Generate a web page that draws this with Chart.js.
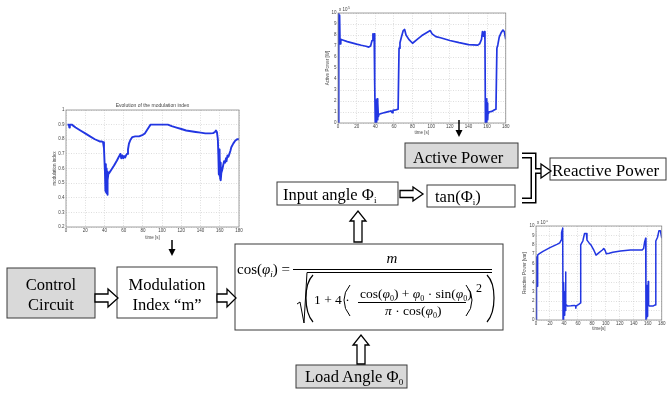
<!DOCTYPE html>
<html>
<head>
<meta charset="utf-8">
<script src="https://cdn.jsdelivr.net/npm/chart.js@4.4.1/dist/chart.umd.min.js"></script>
<style>
  html, body { margin: 0; padding: 0; background: #fff; }
  #page { position: relative; width: 667px; height: 398px; overflow: hidden; }
  canvas { position: absolute; }
  #diagram { position: absolute; left: 0; top: 0; pointer-events: none; }
  #diagram text { font-family: "Liberation Serif", "Times New Roman", serif; fill: #000; }
  .box { stroke: #3a3a3a; stroke-width: 1; }
</style>
</head>
<body>
<div id="page">
  <canvas id="modChart" width="215" height="140" style="left:30px;top:100px"></canvas>
  <canvas id="activeChart" width="186" height="135" style="left:325px;top:0px"></canvas>
  <canvas id="reactiveChart" width="147" height="111" style="left:520px;top:220px"></canvas>

  <svg id="diagram" width="667" height="398" viewBox="0 0 667 398">
    <!-- thin arrows from the plots -->
    <line x1="172" y1="240" x2="172" y2="250" stroke="#000" stroke-width="1.5"/>
    <polygon points="168.5,249 175.5,249 172,256" fill="#000"/>
    <line x1="459" y1="120" x2="459" y2="131" stroke="#000" stroke-width="1.5"/>
    <polygon points="455.5,130 462.5,130 459,137" fill="#000"/>

    <!-- blocks -->
    <rect class="box" x="7" y="268" width="88" height="50" fill="#d9d9d9"/>
    <text x="51" y="290" font-size="16.5" text-anchor="middle">Control</text>
    <text x="51" y="310" font-size="16.5" text-anchor="middle">Circuit</text>

    <rect class="box" x="117" y="267" width="100" height="51" fill="#fff"/>
    <text x="167" y="290" font-size="16.5" text-anchor="middle">Modulation</text>
    <text x="167" y="310" font-size="16.5" text-anchor="middle">Index “m”</text>

    <rect class="box" x="235" y="244" width="268" height="86" fill="#fff"/>

    <rect class="box" x="277" y="182" width="121" height="23" fill="#fff"/>
    <text x="283" y="200" font-size="16.5">Input angle Φ<tspan font-size="9" dy="3">i</tspan></text>

    <rect class="box" x="427" y="185" width="88" height="22" fill="#fff"/>
    <text x="435" y="202" font-size="16.5">tan(Φ<tspan font-size="9" dy="3">i</tspan><tspan dy="-3">)</tspan></text>

    <rect class="box" x="405" y="143" width="113" height="25" fill="#d9d9d9"/>
    <text x="413" y="163" font-size="16.5">Active Power</text>

    <rect class="box" x="550" y="158" width="116" height="22" fill="#fff"/>
    <text x="552" y="176" font-size="17">Reactive Power</text>

    <rect class="box" x="296" y="365" width="111" height="23" fill="#d9d9d9"/>
    <text x="305" y="382" font-size="16.5">Load Angle Φ<tspan font-size="9" dy="3">0</tspan></text>

    <!-- hollow block arrows -->
    <g fill="#fff" stroke="#000" stroke-width="1.3" stroke-linejoin="miter">
      <polygon points="95,294 108,294 108,289 118,298 108,307 108,302 95,302"/>
      <polygon points="217,294 227,294 227,289 236,298 227,307 227,302 217,302"/>
      <polygon points="400,190.5 413,190.5 413,187 423,194 413,201 413,197.5 400,197.5"/>
      <polygon points="354,242 354,221 350,221 358,211 366,221 362,221 362,242"/>
      <polygon points="357,364 357,345 353,345 361,335 369,345 365,345 365,364"/>
    </g>

    <!-- bracket joining active power and tan(phi) -->
    <path d="M522,155.5 H533.5 V200.5 H522 M533.5,171 H542" fill="none" stroke="#000" stroke-width="6"/>
    <path d="M522,155.5 H533.5 V200.5 H522 M533.5,171 H543" fill="none" stroke="#fff" stroke-width="3"/>
    <polygon points="541,164 551,171 541,178" fill="#fff" stroke="#000" stroke-width="1.3"/>

    <!-- cos(phi_i) = m / sqrt(1 + 4((cos phi0 + phi0 sin phi0)/(pi cos phi0))^2) -->
    <text x="237" y="274" font-size="15">cos(<tspan font-style="italic">φ</tspan><tspan font-size="9" font-style="italic" dy="3">i</tspan><tspan dy="-3">) =</tspan></text>
    <line x1="293" y1="269.5" x2="492" y2="269.5" stroke="#000" stroke-width="1"/>
    <text x="392" y="263" font-size="15" font-style="italic" text-anchor="middle">m</text>
    <path d="M297,304 L300,302 L304,323 L307,272.5 L492,272.5" fill="none" stroke="#000" stroke-width="1"/>
    <path d="M313,275 Q306,282 306,298 Q306,314 313,322" fill="none" stroke="#000" stroke-width="1.2"/>
    <path d="M487,275 Q494,282 494,298 Q494,314 487,322" fill="none" stroke="#000" stroke-width="1.2"/>
    <text x="314" y="304" font-size="13.5">1 + 4 ·</text>
    <path d="M350,285 Q344,292 344,300 Q344,309 350,316" fill="none" stroke="#000" stroke-width="1"/>
    <path d="M466,285 Q472,292 472,300 Q472,309 466,316" fill="none" stroke="#000" stroke-width="1"/>
    <text x="476" y="292" font-size="12">2</text>
    <text x="360" y="298" font-size="13.5">cos(<tspan font-style="italic">φ</tspan><tspan font-size="8" dy="2.5">0</tspan><tspan dy="-2.5">) + </tspan><tspan font-style="italic">φ</tspan><tspan font-size="8" dy="2.5">0</tspan><tspan dy="-2.5"> · sin(</tspan><tspan font-style="italic">φ</tspan><tspan font-size="8" dy="2.5">0</tspan><tspan dy="-2.5">)</tspan></text>
    <line x1="358" y1="302.5" x2="466" y2="302.5" stroke="#000" stroke-width="1"/>
    <text x="385" y="315" font-size="13.5"><tspan font-style="italic">π</tspan> · cos(<tspan font-style="italic">φ</tspan><tspan font-size="8" dy="2.5">0</tspan><tspan dy="-2.5">)</tspan></text>
  </svg>
</div>

<script>
// time axis shared by the three plots [s]
const timeMin = 0;
const timeMax = 180;
const timeStep = 20;

// modulation index m(t)
const modulationIndex = [
  [1.5, 0.90], [3, 0.90], [3.5, 0.88], [4, 0.90], [6, 0.90], [10, 0.88], [15, 0.86],
  [20, 0.84], [25, 0.82], [30, 0.80], [35, 0.785], [37, 0.785], [38.5, 0.78], [39.5, 0.74],
  [40.5, 0.58], [41, 0.45], [41.3, 0.63], [41.6, 0.44], [42, 0.60], [42.3, 0.43], [42.7, 0.58],
  [43, 0.42], [43.5, 0.52], [44, 0.56], [45, 0.57], [47, 0.59], [50, 0.62], [53, 0.655],
  [55, 0.68], [56.5, 0.70], [57.5, 0.67], [58.5, 0.69], [59.5, 0.67], [60.5, 0.685],
  [61.5, 0.675], [62.5, 0.69], [63.5, 0.70], [64.5, 0.73], [65.5, 0.77], [67, 0.795],
  [69, 0.815], [72, 0.82], [76, 0.82], [80, 0.83], [82, 0.84], [84, 0.86], [86, 0.88],
  [88, 0.90], [95, 0.90], [100, 0.90], [106, 0.90], [110, 0.89], [115, 0.88], [120, 0.87],
  [125, 0.86], [130, 0.855], [135, 0.85], [140, 0.845], [145, 0.84], [150, 0.84],
  [153, 0.842], [155, 0.85], [156, 0.86], [157, 0.85], [158, 0.80], [158.5, 0.70],
  [159, 0.56], [159.3, 0.73], [159.6, 0.55], [160, 0.70], [160.4, 0.53], [160.8, 0.64],
  [161.2, 0.52], [161.6, 0.57], [162.5, 0.59], [163.5, 0.62], [164.5, 0.65], [165.5, 0.64],
  [166.5, 0.67], [167, 0.65], [168, 0.69], [169, 0.68], [170, 0.70], [171, 0.72],
  [172, 0.745], [174, 0.77], [176, 0.79], [178, 0.80], [180, 0.80]
];

// active power P(t), x 10^5 W
const activePower = [
  [0, 0], [0.6, 5], [1, 10], [1.3, 7.3], [1.7, 9.8], [2.2, 7.2], [3, 7.6], [5, 7.55],
  [10, 7.4], [15, 7.28], [20, 7.17], [25, 7.07], [30, 6.98], [33, 6.9], [35, 7.0],
  [36.5, 7.5], [37.5, 8.1], [38.3, 7.6], [38.8, 8.1], [39.2, 7.5], [39.6, 3.5], [40, 0],
  [40.4, 2.1], [40.8, 0.1], [41.2, 2.0], [41.6, 0], [42, 2.2], [42.4, 0.3], [42.8, 1.9],
  [43.3, 0.6], [44, 0.8], [50, 0.95], [55, 1.05], [57, 1.1], [58, 0.95], [59, 1.15],
  [62, 1.2], [64.5, 1.25], [65.5, 6.8], [66.5, 7.3], [68, 7.8], [70, 8.4], [71.5, 8.5],
  [73, 8.0], [76, 7.6], [80, 7.25], [85, 7.6], [90, 7.95], [95, 8.2], [99, 8.4], [101, 8.1],
  [105, 7.85], [110, 7.75], [120, 7.5], [130, 7.3], [140, 7.12], [150, 7.08], [152, 7.2],
  [154, 7.6], [155, 8.3], [156, 7.9], [157, 8.3], [157.7, 7.6], [158.2, 0], [158.6, 2.2],
  [159, 0], [159.4, 2.2], [159.8, 0.2], [160.2, 1.8], [160.6, 0.3], [161, 1.0], [161.5, 0.9],
  [162, 1.0], [165, 1.05], [168, 1.2], [169.5, 1.25], [170.5, 6.8], [171.5, 7.1], [173, 7.8],
  [175, 8.2], [177, 8.45], [178.5, 8.3], [180, 7.6]
];

// reactive power Q(t), x 10^5 var
const reactivePower = [
  [0, 0], [0.5, 3.5], [1, 6.7], [1.5, 4.2], [1.9, 3.6], [2.4, 6.5], [2.8, 6.9], [3.8, 7.0],
  [10, 7.3], [20, 7.7], [30, 8.05], [34, 8.2], [36, 8.5], [36.6, 9.3], [37.6, 9.6], [38, 9.8],
  [38.4, 9.2], [38.7, 0], [39.1, 3.5], [39.5, 0.2], [39.9, 4.0], [40.3, 0.5], [40.7, 3.0],
  [41.1, 0.8], [41.5, 2.0], [41.9, 1.0], [42.3, 5.1], [42.8, 1.6], [43.7, 1.6], [44.6, 1.5],
  [50, 1.52], [55, 1.55], [56.5, 1.5], [57, 1.25], [57.5, 1.5], [60, 1.6], [62.5, 1.75],
  [63.4, 1.8], [64, 8.0], [65.5, 8.2], [67, 8.4], [69.5, 9.2], [72, 9.2], [73, 8.5], [76, 8.2],
  [79, 7.95], [83, 7.4], [86, 6.9], [90.7, 7.2], [95, 7.45], [97, 7.6], [99, 7.4],
  [100.6, 7.05], [104.8, 7.1], [110, 7.2], [121, 7.35], [135, 7.45], [152, 7.45], [154, 7.6],
  [155.5, 8.3], [157, 8.7], [157.4, 0], [157.8, 3.7], [158.2, 0.2], [158.6, 3.0], [159, 0.4],
  [159.4, 2.5], [159.8, 1.0], [160.2, 2.0], [160.7, 4.1], [161.2, 1.6], [162, 1.5], [168, 1.5],
  [170.5, 1.6], [171.5, 8.4], [174, 8.8], [176, 9.5], [178, 9.5], [180, 8.7]
];

const TICK_FONT = { family: 'Liberation Sans, Arial, sans-serif', size: 4.5 };
const TICK_COLOR = '#444';
const LINE_BLUE = '#2236e2';

// frame around the axes, heading and the "x 10^n" multiplier, drawn like a MATLAB figure
const plotFrame = {
    id: 'plotFrame',
    afterDraw(chart, args, opts) {
        const a = chart.chartArea;
        const ctx = chart.ctx;
        ctx.save();
        ctx.strokeStyle = '#8a8a8a';
        ctx.lineWidth = 0.8;
        ctx.strokeRect(a.left, a.top, a.right - a.left, a.bottom - a.top);
        ctx.fillStyle = TICK_COLOR;
        if (opts.heading) {
            ctx.font = '5px Liberation Sans, Arial, sans-serif';
            ctx.textAlign = 'center';
            ctx.textBaseline = 'bottom';
            ctx.fillText(opts.heading, (a.left + a.right) / 2, a.top - 2);
        }
        if (opts.exponent) {
            ctx.textAlign = 'left';
            ctx.textBaseline = 'bottom';
            ctx.font = '4.5px Liberation Sans, Arial, sans-serif';
            ctx.fillText('x 10', a.left + 1, a.top - 1);
            const w = ctx.measureText('x 10').width;
            ctx.font = '3.5px Liberation Sans, Arial, sans-serif';
            ctx.fillText(opts.exponent, a.left + 1.5 + w, a.top - 3);
        }
        ctx.restore();
    }
};

// MATLAB style tick text: 1 instead of 1.0
const plainTick = v => String(Number(v.toFixed(2)));

function makePlot(id, series, cfg) {
    const axisTitle = (text, pad) => ({
        display: true,
        text: text,
        color: TICK_COLOR,
        font: { family: TICK_FONT.family, size: 4.5 },
        padding: pad
    });
    const grid = { color: '#bdbdbd', lineWidth: 0.5, drawTicks: false };
    const border = { display: false, dash: [1, 1.5] };

    return new Chart(document.getElementById(id), {
        type: 'line',
        plugins: [plotFrame],
        data: {
            datasets: [{
                data: series.map(p => ({ x: p[0], y: p[1] })),
                borderColor: LINE_BLUE,
                borderWidth: cfg.lineWidth || 1.7,
                borderJoinStyle: 'round',
                pointRadius: 0,
                tension: 0,
                fill: false
            }]
        },
        options: {
            responsive: false,
            animation: false,
            events: [],
            layout: { padding: cfg.padding },
            plugins: {
                legend: { display: false },
                tooltip: { enabled: false },
                plotFrame: { heading: cfg.heading, exponent: cfg.exponent }
            },
            scales: {
                x: {
                    type: 'linear',
                    min: timeMin,
                    max: timeMax,
                    ticks: { stepSize: timeStep, font: TICK_FONT, color: TICK_COLOR, padding: 1.5, maxRotation: 0, autoSkip: false, callback: plainTick },
                    grid: grid,
                    border: border,
                    title: axisTitle(cfg.xLabel, { top: 0, bottom: 0 }),
                    afterFit: s => { s.height = cfg.xHeight; }
                },
                y: {
                    min: cfg.yMin,
                    max: cfg.yMax,
                    ticks: { stepSize: cfg.yStep, font: TICK_FONT, color: TICK_COLOR, padding: 1.5, autoSkip: false, callback: plainTick },
                    grid: grid,
                    border: border,
                    title: axisTitle(cfg.yLabel, { top: cfg.yTitlePad, bottom: 0 }),
                    afterFit: s => { s.width = cfg.yWidth; }
                }
            }
        }
    });
}

makePlot('modChart', modulationIndex, {
    heading: 'Evolution of the modulation index',
    xLabel: 'time [s]',
    yLabel: 'modulation index',
    yMin: 0.2, yMax: 1, yStep: 0.1,
    padding: { top: 10, right: 6, bottom: 0, left: 0 },
    xHeight: 13, yWidth: 36, yTitlePad: 22,
    lineWidth: 1.9
});

makePlot('activeChart', activePower, {
    exponent: '5',
    xLabel: 'time [s]',
    yLabel: 'Active Power [W]',
    yMin: 0, yMax: 10, yStep: 1,
    padding: { top: 13, right: 4, bottom: 0, left: 0 },
    xHeight: 12, yWidth: 13, yTitlePad: 0
});

makePlot('reactiveChart', reactivePower, {
    exponent: '5',
    xLabel: 'time[s]',
    yLabel: 'Reactive Power [var]',
    yMin: 0, yMax: 10, yStep: 1,
    padding: { top: 6, right: 4, bottom: 0, left: 0 },
    xHeight: 11, yWidth: 16, yTitlePad: 2,
    lineWidth: 1.5
});
</script>
</body>
</html>
